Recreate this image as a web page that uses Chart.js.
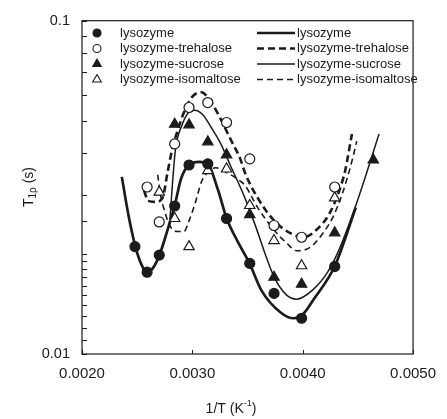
<!DOCTYPE html>
<html>
<head>
<meta charset="utf-8">
<script src="https://cdn.jsdelivr.net/npm/chart.js@4.4.1/dist/chart.umd.min.js"></script>
<style>
html, body { margin: 0; padding: 0; background: #fff; }
#wrap { width: 447px; height: 419px; }
</style>
</head>
<body>
<div id="wrap"><canvas id="relaxChart" width="447" height="419"></canvas></div>
<script>
// measured points: 1/T (K^-1) and T1rho (s)
const invT = [0.00248, 0.00259, 0.00270, 0.00284, 0.00297, 0.00314, 0.00331, 0.00352, 0.00374, 0.00399, 0.00429, 0.00464];
const lysozyme   = [0.0210, 0.0176, 0.0198, 0.0278, 0.0369, 0.0372, 0.0255, 0.0187, 0.0152, 0.0128, 0.0183, null];
const trehalose  = [null, 0.0317, 0.0249, 0.0427, 0.0549, 0.0568, 0.0495, 0.0385, 0.0243, 0.0224, 0.0317, null];
const sucrose    = [null, null, null, 0.0489, 0.0487, 0.0433, 0.0396, 0.0262, 0.0170, 0.0162, 0.0231, 0.0382];
const isomaltose = [null, null, 0.0306, 0.0255, 0.0210, 0.0355, 0.0359, 0.0279, 0.0219, 0.0184, 0.0294, null];

// fitted curves
const fitLysX = [0.002361, 0.002422, 0.002484, 0.002537, 0.002589, 0.002642, 0.002704, 0.002774, 0.002840, 0.002897, 0.002968, 0.003064, 0.003139, 0.003232, 0.003311, 0.003416, 0.003518, 0.003627, 0.003803, 0.003918, 0.004006, 0.004094, 0.004292, 0.004481];
const fitLysY = [0.0340, 0.0260, 0.0210, 0.0186, 0.0176, 0.0181, 0.0199, 0.0235, 0.0279, 0.0335, 0.0369, 0.0377, 0.0372, 0.0311, 0.0255, 0.0216, 0.0187, 0.0155, 0.0133, 0.0128, 0.0132, 0.0145, 0.0184, 0.0275];

const fitSucX = [0.002792, 0.002845, 0.002906, 0.002968, 0.003020, 0.003091, 0.003170, 0.003258, 0.003346, 0.003469, 0.003557, 0.003742, 0.003847, 0.003944, 0.004094, 0.004226, 0.004314, 0.004481, 0.004692];
const fitSucY = [0.0241, 0.0406, 0.0486, 0.0531, 0.0539, 0.0524, 0.0479, 0.0427, 0.0367, 0.0298, 0.0250, 0.0170, 0.0151, 0.0146, 0.0156, 0.0176, 0.0200, 0.0279, 0.0457];

const fitTreX = [0.002563, 0.002598, 0.002669, 0.002730, 0.002774, 0.002818, 0.002862, 0.002924, 0.002994, 0.003082, 0.003170, 0.003258, 0.003346, 0.003434, 0.003478, 0.003592, 0.003742, 0.003892, 0.004006, 0.004120, 0.004243, 0.004331, 0.004384, 0.004446];
const fitTreY = [0.0309, 0.0288, 0.0286, 0.0294, 0.0349, 0.0412, 0.0463, 0.0531, 0.0589, 0.0610, 0.0569, 0.0506, 0.0441, 0.0385, 0.0349, 0.0294, 0.0251, 0.0230, 0.0224, 0.0235, 0.0264, 0.0309, 0.0354, 0.0457];

const fitIsoX = [0.002686, 0.002713, 0.002748, 0.002792, 0.002862, 0.002924, 0.002968, 0.003029, 0.003082, 0.003144, 0.003214, 0.003319, 0.003408, 0.003478, 0.003592, 0.003742, 0.003856, 0.003944, 0.004067, 0.004182, 0.004270, 0.004358, 0.004446, 0.004490];
const fitIsoY = [0.0345, 0.0298, 0.0269, 0.0244, 0.0233, 0.0233, 0.0250, 0.0286, 0.0328, 0.0352, 0.0362, 0.0349, 0.0335, 0.0320, 0.0275, 0.0235, 0.0215, 0.0204, 0.0209, 0.0230, 0.0256, 0.0302, 0.0379, 0.0435];

const seriesNames = ['lysozyme', 'lysozyme-trehalose', 'lysozyme-sucrose', 'lysozyme-isomaltose'];

const INK = '#1b1b1b';
const FONT = '"Liberation Sans", Arial, sans-serif';

function pts(arr) {
  return invT.map((x, i) => ({ x: x, y: arr[i] })).filter(p => p.y !== null);
}
function curve(xs, ys) {
  return xs.map((x, i) => ({ x: x, y: ys[i] }));
}

const markerStyles = [
  { pointStyle: 'circle',   fill: INK,    radius: 5 },
  { pointStyle: 'circle',   fill: '#fff', radius: 5 },
  { pointStyle: 'triangle', fill: INK,    radius: 6 },
  { pointStyle: 'triangle', fill: '#fff', radius: 6 }
];
const lineStyles = [
  { width: 2.7, dash: [] },
  { width: 2.6, dash: [7, 4] },
  { width: 1.5, dash: [] },
  { width: 1.6, dash: [6, 4] }
];

const pointSets = [lysozyme, trehalose, sucrose, isomaltose].map((arr, i) => ({
  type: 'scatter',
  label: seriesNames[i],
  data: pts(arr),
  showLine: false,
  pointStyle: markerStyles[i].pointStyle,
  pointRadius: markerStyles[i].radius,
  pointBackgroundColor: markerStyles[i].fill,
  pointBorderColor: INK,
  pointBorderWidth: 1.2
}));

const fits = [[fitLysX, fitLysY], [fitTreX, fitTreY], [fitSucX, fitSucY], [fitIsoX, fitIsoY]];
const lineSets = fits.map((f, i) => ({
  type: 'line',
  label: seriesNames[i] + ' fit',
  data: curve(f[0], f[1]),
  borderColor: INK,
  borderWidth: lineStyles[i].width,
  borderDash: lineStyles[i].dash,
  pointRadius: 0,
  fill: false,
  cubicInterpolationMode: 'monotone'
}));

// box, inward tick marks, axis titles and the two-column legend
const decorations = {
  id: 'decorations',
  afterDraw(chart) {
    const ctx = chart.ctx;
    const a = chart.chartArea;
    const xs = chart.scales.x, ys = chart.scales.y;
    ctx.save();
    ctx.strokeStyle = INK;
    ctx.lineWidth = 1.2;
    ctx.strokeRect(a.left, a.top, a.right - a.left, a.bottom - a.top);

    ctx.lineWidth = 1;
    ys.ticks.forEach(t => {
      const y = Math.round(ys.getPixelForValue(t.value)) + 0.5;
      ctx.beginPath(); ctx.moveTo(a.left, y); ctx.lineTo(a.left + 5, y); ctx.stroke();
    });
    xs.ticks.forEach(t => {
      const x = Math.round(xs.getPixelForValue(t.value)) + 0.5;
      ctx.beginPath(); ctx.moveTo(x, a.bottom); ctx.lineTo(x, a.bottom - 4); ctx.stroke();
    });

    ctx.fillStyle = INK;
    ctx.textBaseline = 'middle';

    // x title: 1/T (K^-1)
    const big = '14px ' + FONT, small = '9px ' + FONT;
    ctx.font = big;
    const w1 = ctx.measureText('1/T (K').width;
    const w3 = ctx.measureText(')').width;
    ctx.font = small;
    const w2 = ctx.measureText('-1').width;
    let x0 = 231 - (w1 + w2 + w3) / 2;
    const ty = 409;
    ctx.textAlign = 'left';
    ctx.font = big; ctx.fillText('1/T (K', x0, ty);
    ctx.font = small; ctx.fillText('-1', x0 + w1, ty - 5);
    ctx.font = big; ctx.fillText(')', x0 + w1 + w2, ty);

    // y title: T1rho (s)
    ctx.save();
    ctx.translate(29, 187);
    ctx.rotate(-Math.PI / 2);
    ctx.font = big;
    const a1 = ctx.measureText('T').width;
    const a3 = ctx.measureText(' (s)').width;
    ctx.font = '10px ' + FONT;
    const a2 = ctx.measureText('1ρ').width;
    let y0 = -(a1 + a2 + a3) / 2;
    ctx.font = big; ctx.fillText('T', y0, 0);
    ctx.font = '10px ' + FONT; ctx.fillText('1ρ', y0 + a1, 4);
    ctx.font = big; ctx.fillText(' (s)', y0 + a1 + a2, 0);
    ctx.restore();

    // legend
    const rows = [33, 48.5, 64, 79.5];
    ctx.font = '13px ' + FONT;
    rows.forEach((ry, i) => {
      const ms = markerStyles[i];
      ctx.save();
      ctx.fillStyle = ms.fill;
      ctx.strokeStyle = INK;
      ctx.lineWidth = 1.1;
      Chart.helpers.drawPoint(ctx, { pointStyle: ms.pointStyle, radius: ms.radius - 1, rotation: 0, borderWidth: 1.1 }, 97, ry);
      ctx.restore();
      ctx.fillStyle = INK;
      ctx.fillText(seriesNames[i], 120, ry);

      const ls = lineStyles[i];
      ctx.save();
      ctx.strokeStyle = INK;
      ctx.lineWidth = ls.width;
      ctx.setLineDash(ls.dash);
      ctx.beginPath(); ctx.moveTo(257, ry); ctx.lineTo(295, ry); ctx.stroke();
      ctx.restore();
      ctx.fillText(seriesNames[i], 297, ry);
    });
    ctx.restore();
  }
};

const chart = new Chart(document.getElementById('relaxChart').getContext('2d'), {
  data: { datasets: pointSets.concat(lineSets) },
  options: {
    responsive: false,
    animation: false,
    layout: { padding: { top: 19, right: 24, left: 0, bottom: 0 }, autoPadding: false },
    plugins: { legend: { display: false }, tooltip: { enabled: false } },
    scales: {
      x: {
        type: 'linear',
        min: 0.002,
        max: 0.005,
        grid: { display: false, drawTicks: false },
        border: { display: false },
        ticks: {
          stepSize: 0.001,
          maxRotation: 0,
          padding: 11,
          color: INK,
          font: { size: 15, family: FONT },
          callback: v => v.toFixed(4)
        },
        afterFit: s => { s.height = 65; }
      },
      y: {
        type: 'logarithmic',
        min: 0.01,
        max: 0.1,
        grid: { display: false, drawTicks: false },
        border: { display: false },
        ticks: {
          autoSkip: false,
          padding: 12,
          color: INK,
          font: { size: 14.5, family: FONT },
          callback: v => Math.abs(v - 0.1) < 1e-9 ? '0.1' : (Math.abs(v - 0.01) < 1e-9 ? '0.01' : '')
        },
        afterFit: s => { s.width = 82; }
      }
    }
  },
  plugins: [decorations]
});
</script>
</body>
</html>
